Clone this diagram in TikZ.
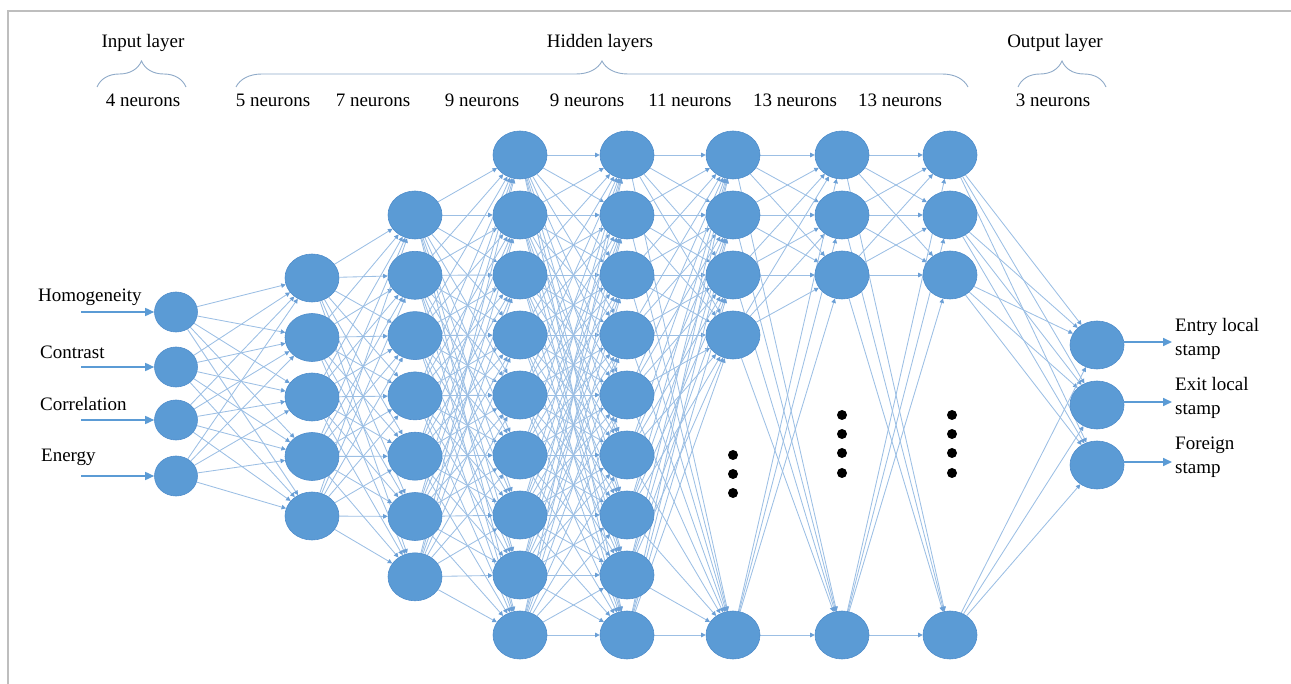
\documentclass[tikz,border=0pt]{standalone}
\usepackage{fontspec}
\setmainfont{Liberation Serif}
\usetikzlibrary{arrows.meta,decorations.pathreplacing,shapes.geometric,backgrounds}

\definecolor{neuronfill}{HTML}{5B9BD5}
\definecolor{neuronedge}{HTML}{4F8DCB}
\definecolor{linkblue}{HTML}{9CBFE4}
\definecolor{tipblue}{HTML}{6A9FD6}
\definecolor{bracecol}{HTML}{8FAAC8}
\definecolor{framegray}{HTML}{BEBEBE}

\begin{document}
\begin{tikzpicture}[x=1pt,y=-1pt,
  neuron/.style={ellipse,fill=neuronfill,draw=neuronedge,line width=0.6pt,
                 minimum width=54pt,minimum height=48pt,inner sep=0pt},
  inneuron/.style={neuron,minimum width=43pt,minimum height=40pt},
  link/.style={draw=linkblue,line width=0.85pt,
               -{Triangle[length=4.5pt,width=4.5pt,color=tipblue]}},
  ioarrow/.style={draw=neuronfill,line width=1.6pt,
                  -{Triangle[length=9pt,width=8pt]}},
  lbl/.style={font=\fontsize{19}{24}\selectfont,inner sep=0pt},
  bracket/.style={draw=bracecol,line width=0.9pt,decorate,
                  decoration={brace,amplitude=26pt,aspect=0.5}},
  dot/.style={circle,fill=black,minimum size=10pt,inner sep=0pt}]

\useasboundingbox (0,0) rectangle (1291,684);

% frame
\draw[framegray,line width=1.5pt] (8,684) -- (8,11) -- (1291,11);

% input layer
\foreach \i/\y in {1/312,2/367,3/420,4/476}
  \node[inneuron] (a\i) at (176,\y) {};
% hidden layers
\foreach \i in {1,...,5}
  \node[neuron] (b\i) at (312,{278+59.5*(\i-1)}) {};
\foreach \i in {1,...,7}
  \node[neuron] (c\i) at (415,{215+60.3*(\i-1)}) {};
\foreach \i in {1,...,9}{
  \node[neuron] (d\i) at (520,{155+60*(\i-1)}) {};
  \node[neuron] (e\i) at (627,{155+60*(\i-1)}) {};
}
\foreach \i/\y in {1/155,2/215,3/275,4/335,5/635}
  \node[neuron] (f\i) at (733,\y) {};
\foreach \i/\y in {1/155,2/215,3/275,4/635}{
  \node[neuron] (g\i) at (842,\y) {};
  \node[neuron] (h\i) at (950,\y) {};
}
% output layer
\foreach \i/\y in {1/345,2/405,3/465}
  \node[neuron] (o\i) at (1097,\y) {};

% omitted neurons
\foreach \y [count=\k] in {455,474,493}
  \node[dot] (fd\k) at (733,\y) {};
\foreach \y [count=\k] in {415,434,453,473}{
  \node[dot] (gd\k) at (842,\y) {};
  \node[dot] (hd\k) at (952,\y) {};
}

% weights
\begin{scope}[on background layer]
  \foreach \s in {1,...,4} \foreach \t in {1,...,5} \draw[link] (a\s) -- (b\t);
  \foreach \s in {1,...,5} \foreach \t in {1,...,7} \draw[link] (b\s) -- (c\t);
  \foreach \s in {1,...,7} \foreach \t in {1,...,9} \draw[link] (c\s) -- (d\t);
  \foreach \s in {1,...,9} \foreach \t in {1,...,9} \draw[link] (d\s) -- (e\t);
  \foreach \s in {1,...,9} \foreach \t in {1,...,5} \draw[link] (e\s) -- (f\t);
  \foreach \s in {1,...,5} \foreach \t in {1,...,4} \draw[link] (f\s) -- (g\t);
  \foreach \s in {1,...,4} \foreach \t in {1,...,4} \draw[link] (g\s) -- (h\t);
  \foreach \s in {1,...,4} \foreach \t in {1,...,3} \draw[link] (h\s) -- (o\t);
\end{scope}

% inputs
\node[lbl,anchor=west] (t1) at (38,297) {Homogeneity};
\node[lbl,anchor=west] (t2) at (40,352) {Contrast};
\node[lbl,anchor=west] (t3) at (40,404) {Correlation};
\node[lbl,anchor=west] (t4) at (41,457) {Energy};
\foreach \i/\y in {1/312,2/367,3/420,4/476}{
  \coordinate (s\i) at (81,\y);
  \draw[ioarrow] (s\i) -- (a\i);
}

% outputs
\foreach \i/\y in {1/342,2/402,3/462}{
  \coordinate (r\i) at (1172,\y);
  \draw[ioarrow] (o\i.east |- r\i) -- (r\i);
}
\node[lbl,anchor=north west,align=left] (u1) at (1175,318) {Entry local\\stamp};
\node[lbl,anchor=north west,align=left] (u2) at (1175,377) {Exit local\\stamp};
\node[lbl,anchor=north west,align=left] (u3) at (1175,437) {Foreign\\stamp};

% layer headings
\node[lbl] (hin) at (143,43) {Input layer};
\node[lbl] (hhid) at (600,43) {Hidden layers};
\node[lbl] (hout) at (1055,43) {Output layer};
\draw[bracket] (97,87) -- (186,87);
\draw[bracket] (236,87) -- (968,87);
\draw[bracket] (1018,87) -- (1106,87);

% neuron counts
\foreach \x/\t [count=\k] in {143/4 neurons,273/5 neurons,373/7 neurons,
    482/9 neurons,587/9 neurons,690/11 neurons,795/13 neurons,
    900/13 neurons,1053/3 neurons}
  \node[lbl] (n\k) at (\x,100) {\t};

\end{tikzpicture}
\end{document}
